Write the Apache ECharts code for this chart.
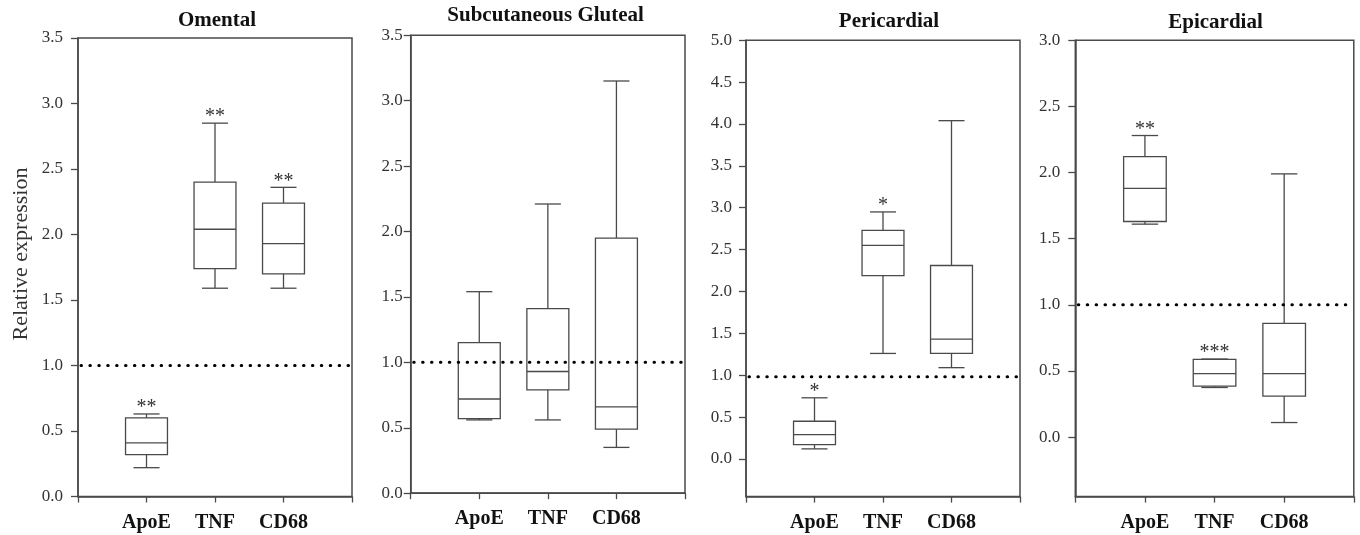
<!DOCTYPE html>
<html>
<head>
<meta charset="utf-8">
<script src="https://cdn.jsdelivr.net/npm/echarts@6/dist/echarts.min.js"></script>
<style>
  html, body { margin: 0; padding: 0; background: #fff; }
  #chart { width: 1360px; height: 535px; }
</style>
</head>
<body>
<div id="chart"></div>
<script>
// Genes shown in every depot
const categories = ['ApoE', 'TNF', 'CD68'];
const panelTitles = ['Omental', 'Subcutaneous Gluteal', 'Pericardial', 'Epicardial'];

// Box statistics per gene: [min, Q1, median, Q3, max]
const omental = [
  [0.22, 0.32, 0.41, 0.60, 0.63],
  [1.59, 1.74, 2.04, 2.40, 2.85],
  [1.59, 1.70, 1.93, 2.24, 2.36]
];
const gluteal = [
  [0.56, 0.57, 0.72, 1.15, 1.54],
  [0.56, 0.79, 0.93, 1.41, 2.21],
  [0.35, 0.49, 0.66, 1.95, 3.15]
];
const pericardial = [
  [0.12, 0.17, 0.29, 0.45, 0.73],
  [1.26, 2.19, 2.55, 2.73, 2.95],
  [1.09, 1.26, 1.43, 2.31, 4.04]
];
const epicardial = [
  [1.61, 1.63, 1.88, 2.12, 2.28],
  [0.375, 0.385, 0.48, 0.587, 0.59],
  [0.11, 0.31, 0.48, 0.86, 1.99]
];

// Significance marks above each whisker
const omentalStars = ['**', '**', '**'];
const glutealStars = ['', '', ''];
const pericardialStars = ['*', '*', ''];
const epicardialStars = ['**', '***', ''];

// Reference level (no change) per depot
const refLevels = [1, 1, 0.98, 1];

// Value axes
const yMins = [0, 0, -0.45, -0.45];
const yMaxs = [3.5, 3.5, 5, 3];
const yTicksOmental = [0, 0.5, 1, 1.5, 2, 2.5, 3, 3.5];
const yTicksGluteal = [0, 0.5, 1, 1.5, 2, 2.5, 3, 3.5];
const yTicksPericardial = [0, 0.5, 1, 1.5, 2, 2.5, 3, 3.5, 4, 4.5, 5];
const yTicksEpicardial = [0, 0.5, 1, 1.5, 2, 2.5, 3];

const panelStats = [omental, gluteal, pericardial, epicardial];
const panelStars = [omentalStars, glutealStars, pericardialStars, epicardialStars];
const panelTicks = [yTicksOmental, yTicksGluteal, yTicksPericardial, yTicksEpicardial];

// Layout of the four frames
const grids = [
  { left: 78, top: 38, width: 274, height: 458.5 },
  { left: 410.7, top: 35.2, width: 274.3, height: 458 },
  { left: 746, top: 40.3, width: 274, height: 456.3 },
  { left: 1075.3, top: 40.3, width: 278.5, height: 456.3 }
];
const labelMargins = [15, 8, 14, 15];
const titlePos = [[217, 20.5], [545.6, 15.5], [889, 22], [1215.5, 23]];

const INK = '#4a4a4a';
const SERIF = '"Liberation Serif", "Times New Roman", serif';

function boxRenderer(stars) {
  return function (params, api) {
    const xv = api.value(0);
    const pMin = api.coord([xv, api.value(1)]);
    const pQ1 = api.coord([xv, api.value(2)]);
    const pMed = api.coord([xv, api.value(3)]);
    const pQ3 = api.coord([xv, api.value(4)]);
    const pMax = api.coord([xv, api.value(5)]);
    const band = api.size([1, 0])[0];
    const hb = band * 0.306;
    const hc = band * 0.19;
    const cx = pMed[0];
    const ls = { stroke: INK, lineWidth: 1.3, fill: null };
    const children = [
      { type: 'line', shape: { x1: cx, y1: pMax[1], x2: cx, y2: pQ3[1] }, style: ls },
      { type: 'line', shape: { x1: cx, y1: pQ1[1], x2: cx, y2: pMin[1] }, style: ls },
      { type: 'line', shape: { x1: cx - hc, y1: pMax[1], x2: cx + hc, y2: pMax[1] }, style: ls },
      { type: 'line', shape: { x1: cx - hc, y1: pMin[1], x2: cx + hc, y2: pMin[1] }, style: ls },
      { type: 'rect', shape: { x: cx - hb, y: pQ3[1], width: 2 * hb, height: pQ1[1] - pQ3[1] },
        style: { stroke: INK, lineWidth: 1.3, fill: 'none' } },
      { type: 'line', shape: { x1: cx - hb, y1: pMed[1], x2: cx + hb, y2: pMed[1] }, style: ls }
    ];
    const mark = stars[params.dataIndex];
    if (mark) {
      children.push({
        type: 'text', x: cx, y: pMax[1] - 6,
        style: { text: mark, font: '20px ' + SERIF, fill: '#333',
                 align: 'center', verticalAlign: 'middle' }
      });
    }
    return { type: 'group', children: children };
  };
}

function refRenderer(params, api) {
  const cs = params.coordSys;
  const y = api.coord([0, api.value(1)])[1];
  return {
    type: 'line',
    shape: { x1: cs.x + 3, y1: y, x2: cs.x + cs.width, y2: y },
    style: { stroke: '#000', lineWidth: 3, lineDash: [0.5, 8.4], lineCap: 'round' }
  };
}

const option = {
  animation: false,
  backgroundColor: '#fff',
  grid: grids.map(g => Object.assign({
    show: true, borderColor: INK, borderWidth: 1.5, backgroundColor: 'transparent',
    containLabel: false
  }, g)),
  xAxis: grids.map((g, i) => ({
    gridIndex: i, type: 'value', min: 0, max: 4, interval: 1,
    axisLine: { show: true, onZero: false, lineStyle: { color: INK, width: 1.5 } },
    axisTick: { show: true, length: 6, lineStyle: { color: INK, width: 1.3 } },
    axisLabel: {
      formatter: v => categories[v - 1] || '',
      fontFamily: SERIF, fontWeight: 'bold', fontSize: 20, color: '#111', margin: 16
    },
    splitLine: { show: false }
  })),
  yAxis: grids.map((g, i) => ({
    gridIndex: i, type: 'value', min: yMins[i], max: yMaxs[i],
    axisLine: { show: true, onZero: false, lineStyle: { color: INK, width: 1.5 } },
    axisTick: { show: true, length: 7, customValues: panelTicks[i], lineStyle: { color: INK, width: 1.3 } },
    axisLabel: {
      customValues: panelTicks[i], formatter: v => v.toFixed(1),
      fontFamily: SERIF, fontSize: 17, color: '#333', margin: labelMargins[i]
    },
    splitLine: { show: false }
  })),
  graphic: panelTitles.map((t, i) => ({
    type: 'text', x: titlePos[i][0], y: titlePos[i][1],
    style: { text: t, font: 'bold 21px ' + SERIF, fill: '#111',
             align: 'center', verticalAlign: 'middle', textAlign: 'center', textVerticalAlign: 'middle' }
  })).concat([{
    type: 'text', x: 21, y: 254, rotation: Math.PI / 2,
    style: { text: 'Relative expression', font: '22px ' + SERIF, fill: '#333',
             align: 'center', verticalAlign: 'middle', textAlign: 'center', textVerticalAlign: 'middle' }
  }]),
  series: []
};

panelStats.forEach((stats, i) => {
  option.series.push({
    type: 'custom', xAxisIndex: i, yAxisIndex: i,
    renderItem: boxRenderer(panelStars[i]),
    encode: { x: 0, y: [1, 2, 3, 4, 5] },
    data: stats.map((s, k) => [k + 1].concat(s)),
    z: 2
  });
  option.series.push({
    type: 'custom', xAxisIndex: i, yAxisIndex: i,
    renderItem: refRenderer,
    encode: { x: 0, y: 1 },
    data: [[0, refLevels[i]]],
    z: 3
  });
});

const chart = echarts.init(document.getElementById('chart'), null, { renderer: 'canvas' });
chart.setOption(option);
</script>
</body>
</html>
